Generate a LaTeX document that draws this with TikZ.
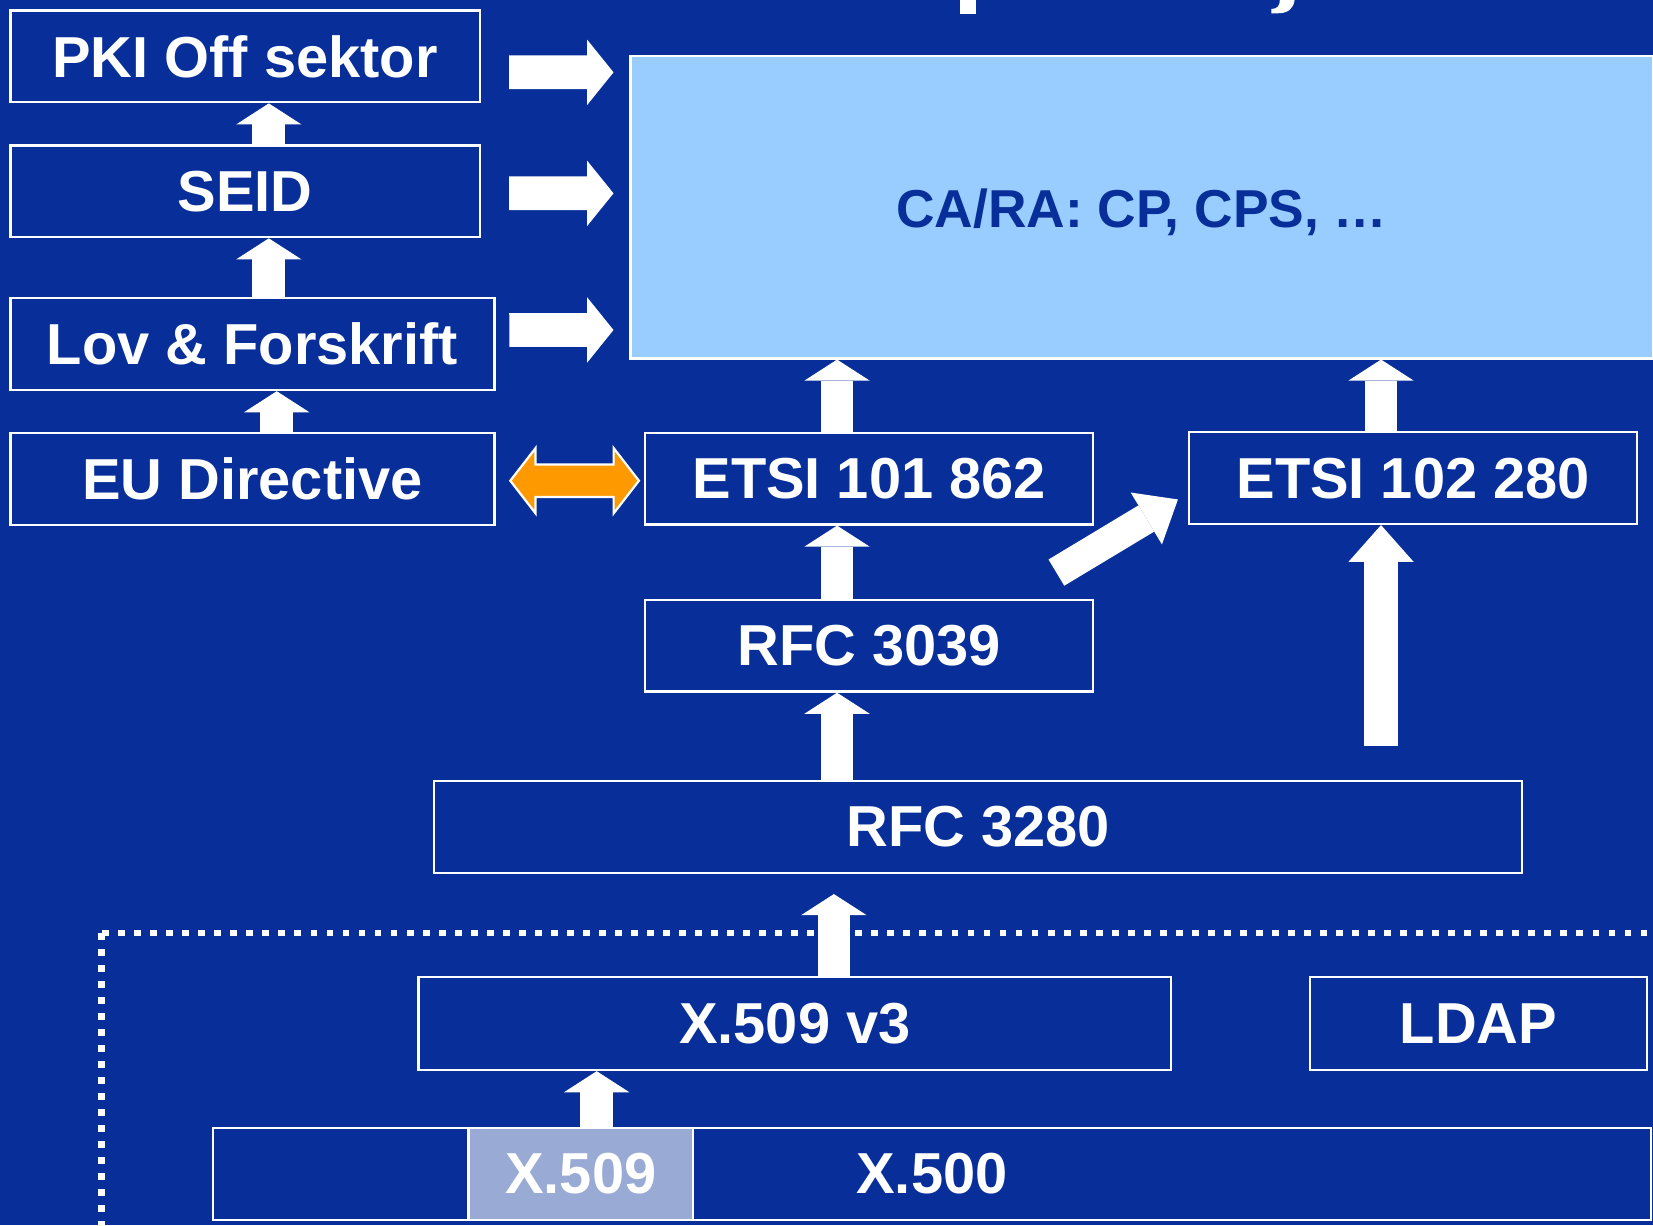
\documentclass[tikz,border=0pt]{standalone}
\usepackage{fontspec}
\setmainfont{Liberation Sans}
\usetikzlibrary{arrows.meta,calc}

\definecolor{slideblue}{RGB}{8,46,153}
\definecolor{lightblue}{RGB}{153,204,255}
\definecolor{greyblue}{RGB}{153,170,212}
\definecolor{arroworange}{RGB}{255,153,0}

\tikzset{
  box/.style={draw=white, line width=0.6pt, text=white, inner sep=0pt,
    minimum height=0.87cm, font=\fontsize{15.6}{18}\selectfont\bfseries},
  uparrow/.style={white, line width=3.1mm,
    -{Triangle[length=2mm, width=6.2mm, line width=0pt]}},
  longarrow/.style={white, line width=3.2mm,
    -{Triangle[length=3.5mm, width=6.2mm, line width=0pt]}},
  rightarrow/.style={white, line width=3.2mm,
    -{Triangle[length=2.5mm, width=6.2mm, line width=0pt]}},
  diagarrow/.style={white, line width=2.9mm,
    -{Triangle[length=3.5mm, width=5.75mm, line width=0pt]}},
  dottedframe/.style={white, line width=0.065cm, dash pattern=on 0.065cm off 0.087cm}
}

\begin{document}
\begin{tikzpicture}
        % background
        \useasboundingbox (0,0) rectangle (15.68,-11.62);
        \fill[slideblue] (0,0) rectangle (15.68,-11.62);
        % bits of the title cut off at the top
        \fill[white] (9.11,0) rectangle (9.26,-0.13);
        \fill[white] (12.14,0) -- (12.28,0) .. controls (12.27,-0.08) and (12.22,-0.126) .. (12.12,-0.126)
          -- (12.06,-0.126) -- (12.06,-0.085) .. controls (12.12,-0.085) and (12.14,-0.05) .. (12.14,0) -- cycle;
        % dotted frame round the lower part
        \draw[dottedframe] (0.96,-8.85) rectangle (16.5,-12.5);

        % draw boxes
        \node[box, minimum width=4.45cm] (pki) at (2.325,-0.535) {PKI Off sektor};
        \node[box, minimum width=4.45cm] (seid) at (2.325,-1.815) {SEID};
        \node[box, minimum width=4.59cm] (lov) at (2.395,-3.265) {Lov \& Forskrift};
        \node[box, minimum width=4.59cm] (eu) at (2.395,-4.545) {EU Directive};
        \node[box, fill=lightblue, text=slideblue, minimum width=9.70cm, minimum height=2.87cm,
          text height=0.44cm, text depth=0.05cm,
          font=\fontsize{14.4}{17}\selectfont\bfseries] (cara) at (10.83,-1.965) {CA/RA: CP, CPS, …};
        \node[box, minimum width=4.25cm] (e862) at (8.245,-4.54) {ETSI 101 862};
        \node[box, minimum width=4.25cm] (e280) at (13.405,-4.535) {ETSI 102 280};
        \node[box, minimum width=4.25cm] (r3039) at (8.245,-6.125) {RFC 3039};
        \node[box, minimum width=10.32cm] (r3280) at (9.28,-7.845) {RFC 3280};
        \node[box, minimum width=7.14cm, minimum height=0.88cm] (x509v3) at (7.54,-9.71) {X.509 v3};
        \node[box, minimum width=3.195cm, minimum height=0.88cm] (ldap) at (14.025,-9.71) {LDAP};
        \node[box, minimum width=13.64cm] (x500) at (8.84,-11.135) {X.500};
        \node[box, fill=greyblue, minimum width=2.13cm] (x509) at (5.51,-11.135) {X.509};

        % draw arrows in the left column
        \draw[uparrow] ([xshift=0.225cm]seid.north) -- ([xshift=0.225cm]pki.south);
        \draw[uparrow] ($(seid.south |- lov.north)+(0.225,0)$) -- ([xshift=0.225cm]seid.south);
        \draw[uparrow] ([xshift=0.23cm]eu.north) -- ([xshift=0.23cm]lov.south);
        % draw arrows into CA/RA
        \draw[rightarrow] ($(pki.east)+(0.27,-0.151)$) -- ($(cara.west)+(-0.15,1.279)$);
        \draw[rightarrow] ($(seid.east)+(0.27,-0.019)$) -- ($(cara.west)+(-0.15,0.131)$);
        \draw[rightarrow] ($(lov.east)+(0.13,0.135)$) -- ($(cara.west)+(-0.15,-1.165)$);
        \draw[uparrow] ([xshift=-0.305cm]e862.north) -- ($(e862.north |- cara.south)+(-0.305,0)$);
        \draw[uparrow] ([xshift=-0.305cm]e280.north) -- ($(e280.north |- cara.south)+(-0.305,0)$);
        % draw the orange arrow
        \draw[white, line width=0.6pt, fill=arroworange] ($(eu.east)+(0.14,-0.015)$) -- ++(0.24,0.31) -- ++(0,-0.155)
          -- ++(0.74,0) -- ++(0,0.155) -- ++(0.24,-0.31) -- ++(-0.24,-0.31) -- ++(0,0.155)
          -- ++(-0.74,0) -- ++(0,-0.155) -- cycle;
        % draw arrows in the middle
        \draw[uparrow] ([xshift=-0.305cm]r3039.north) -- ([xshift=-0.305cm]e862.south);
        \draw[uparrow] ($(r3039.south |- r3280.north)+(-0.305,0)$) -- ([xshift=-0.305cm]r3039.south);
        \draw[diagarrow] ($(r3039.north east)+(-0.36,0.248)$) -- ($(e280.south west)+(-0.096,0.243)$);
        \coordinate (e280foot) at ($(e280.south)+(-0.305,-2.10)$);
        \draw[longarrow] (e280foot) -- ([xshift=-0.305cm]e280.south);
        % draw arrows at the bottom
        \draw[uparrow] ([xshift=0.37cm]x509v3.north) -- ($(x509v3.north |- r3280.south)+(0.37,-0.19)$);
        \draw[uparrow] ([xshift=0.15cm]x509.north) -- ($(x509.north |- x509v3.south)+(0.15,0)$);

\end{tikzpicture}
\end{document}
